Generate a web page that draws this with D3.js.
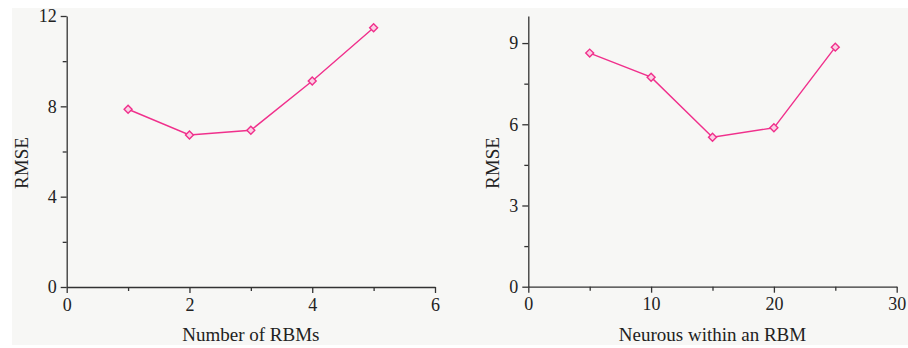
<!DOCTYPE html>
<html><head><meta charset="utf-8">
<script src="https://cdn.jsdelivr.net/npm/d3@7"></script>
<style>body{margin:0;background:#fff}svg{display:block}</style>
</head><body>
<svg id="c" width="908" height="348"></svg>
<script>
// Panel A data
const rbmCounts = [1, 2, 3, 4, 5];
const rmseByRbm = [7.87, 6.73, 6.94, 9.12, 11.48];
const xTicksA = [0, 2, 4, 6];
const xMinorA = [1, 3, 5];
const yTicksA = [0, 4, 8, 12];
const yMinorA = [2, 6, 10];
// Panel B data
const neurons = [5, 10, 15, 20, 25];
const rmseByNeuron = [8.63, 7.74, 5.52, 5.87, 8.85];
const xTicksB = [0, 10, 20, 30];
const xMinorB = [5, 15, 25];
const yTicksB = [0, 3, 6, 9];
const yMinorB = [1.5, 4.5, 7.5];

const svg = d3.select("#c");
svg.append("rect").attr("x", 12).attr("y", 8).attr("width", 896).attr("height", 337).attr("fill", "#f7f7f5");

const font = "'Liberation Serif','Times New Roman',serif";
const ink = "#222";
const pink = "#f0308c";
const fmt = d3.format("d");

function panel(cfg) {
  const x = d3.scaleLinear().domain(cfg.xDomain).range([cfg.left, cfg.right]);
  const y = d3.scaleLinear().domain(cfg.yDomain).range([cfg.bottom, cfg.top]);
  const g = svg.append("g");

  g.append("g").attr("transform", `translate(0,${cfg.bottom})`)
    .call(d3.axisBottom(x).tickValues(cfg.xTicks).tickFormat(fmt).tickSize(6).tickSizeOuter(0).tickPadding(5));
  g.append("g").attr("transform", `translate(0,${cfg.bottom})`)
    .call(d3.axisBottom(x).tickValues(cfg.xMinor).tickSize(4).tickSizeOuter(0).tickFormat(""))
    .select(".domain").remove();
  g.append("g").attr("transform", `translate(${cfg.left},0)`)
    .call(d3.axisLeft(y).tickValues(cfg.yTicks).tickFormat(fmt).tickSize(6).tickSizeOuter(0).tickPadding(4));
  g.append("g").attr("transform", `translate(${cfg.left},0)`)
    .call(d3.axisLeft(y).tickValues(cfg.yMinor).tickSize(4).tickSizeOuter(0).tickFormat(""))
    .select(".domain").remove();

  g.selectAll(".domain, .tick line").attr("stroke", "#333").attr("stroke-width", 1.3);
  g.selectAll(".tick text").attr("font-family", font).attr("font-size", 18).attr("fill", ink);

  g.append("text").attr("x", (cfg.left + cfg.right) / 2).attr("y", 341)
    .attr("text-anchor", "middle").attr("font-family", font).attr("font-size", 19).attr("fill", ink)
    .text(cfg.xLabel);
  g.append("text").attr("transform", `translate(${cfg.ylx},163) rotate(-90)`)
    .attr("text-anchor", "middle").attr("dominant-baseline", "central")
    .attr("font-family", font).attr("font-size", 19).attr("fill", ink)
    .text("RMSE");

  const pts = cfg.xs.map((v, i) => [v, cfg.ys[i]]);
  g.append("path").datum(pts)
    .attr("fill", "none").attr("stroke", pink).attr("stroke-width", 1.4)
    .attr("d", d3.line().x(d => x(d[0])).y(d => y(d[1])));
  g.selectAll(".mk").data(pts).join("path").attr("class", "mk")
    .attr("transform", d => `translate(${x(d[0])},${y(d[1])})`)
    .attr("d", d3.symbol(d3.symbolDiamond2, 40)())
    .attr("fill", "#fbd0e4").attr("stroke", pink).attr("stroke-width", 1.4);
}

panel({xs: rbmCounts, ys: rmseByRbm, xDomain: [0, 6], yDomain: [0, 12],
  xTicks: xTicksA, xMinor: xMinorA, yTicks: yTicksA, yMinor: yMinorA,
  left: 66.7, right: 435, top: 16, bottom: 287, xLabel: "Number of RBMs", ylx: 21});
panel({xs: neurons, ys: rmseByNeuron, xDomain: [0, 30], yDomain: [0, 10],
  xTicks: xTicksB, xMinor: xMinorB, yTicks: yTicksB, yMinor: yMinorB,
  left: 528.3, right: 896.7, top: 16, bottom: 286.7, xLabel: "Neurous within an RBM", ylx: 492});
</script>
</body></html>
